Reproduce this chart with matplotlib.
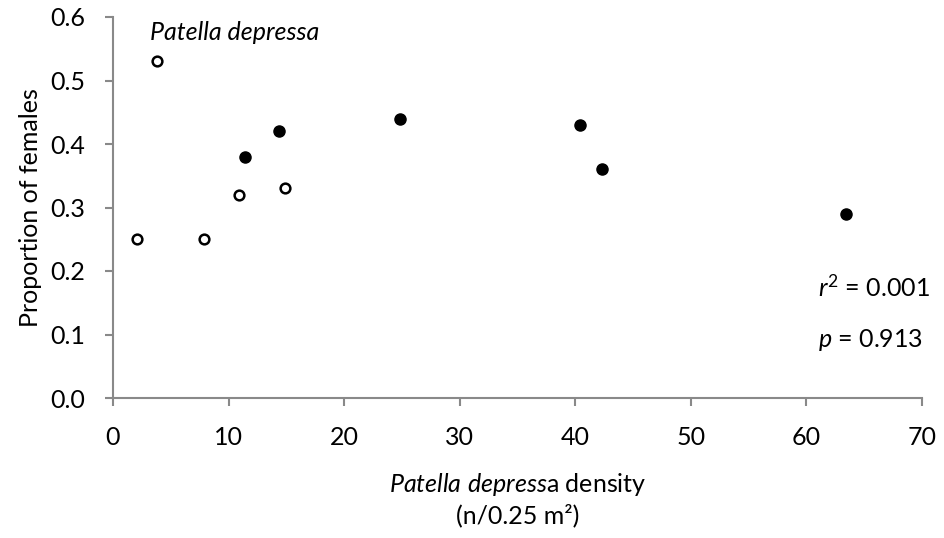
import matplotlib.pyplot as plt

plt.rcParams['font.family'] = ['Lato', 'DejaVu Sans']
plt.rcParams['mathtext.fontset'] = 'custom'
plt.rcParams['mathtext.rm'] = 'Lato'
plt.rcParams['mathtext.it'] = 'Lato:italic'

# densidad (n/0.25 m2) y proporcion de hembras
dens_abiertos = [2.1, 3.8, 7.9, 10.9, 14.9]
prop_abiertos = [0.25, 0.53, 0.25, 0.32, 0.33]
dens_llenos = [11.4, 14.4, 24.8, 40.4, 42.3, 63.4]
prop_llenos = [0.38, 0.42, 0.44, 0.43, 0.36, 0.29]

x_ticks = [0, 10, 20, 30, 40, 50, 60, 70]
y_ticks = [0.0, 0.1, 0.2, 0.3, 0.4, 0.5, 0.6]

gris = '#898989'

fig = plt.figure(figsize=(9.45, 5.38), dpi=100)
ax = fig.add_axes([113 / 945, 1 - 398 / 538, (922 - 113) / 945, (398 - 17) / 538])

ax.plot(dens_abiertos, prop_abiertos, 'o', ms=7, mfc='white', mec='black', mew=1.8,
        clip_on=False)
ax.plot(dens_llenos, prop_llenos, 'o', ms=8, mfc='black', mec='black', clip_on=False)

ax.set_xlim(0, 70)
ax.set_ylim(0, 0.6)
ax.set_xticks(x_ticks)
ax.set_yticks(y_ticks)
ax.set_yticklabels([f'{v:.1f}' for v in y_ticks])

for lado in ['top', 'right']:
    ax.spines[lado].set_visible(False)
for lado in ['left', 'bottom']:
    ax.spines[lado].set_color(gris)
    ax.spines[lado].set_linewidth(1.5)
ax.tick_params(axis='both', colors=gris, labelcolor='black', labelsize=18,
               width=1.5, length=6)
ax.tick_params(axis='x', pad=14)
ax.tick_params(axis='y', pad=14)

ax.set_ylabel('Proportion of females', fontsize=18, labelpad=6)
ax.set_xlabel('$\\mathit{Patella\\ depress}$a density\n(n/0.25 m²)', fontsize=18,
              labelpad=16, linespacing=1.3)

ax.text(3.2, 0.575, 'Patella depressa', style='italic', fontsize=18, va='center')
ax.text(61.0, 0.175, '$\\mathit{r}^{2}$ = 0.001', fontsize=18, va='center')
ax.text(61.0, 0.092, '$\\mathit{p}$ = 0.913', fontsize=18, va='center')

fig.savefig('out.png', dpi=100)
